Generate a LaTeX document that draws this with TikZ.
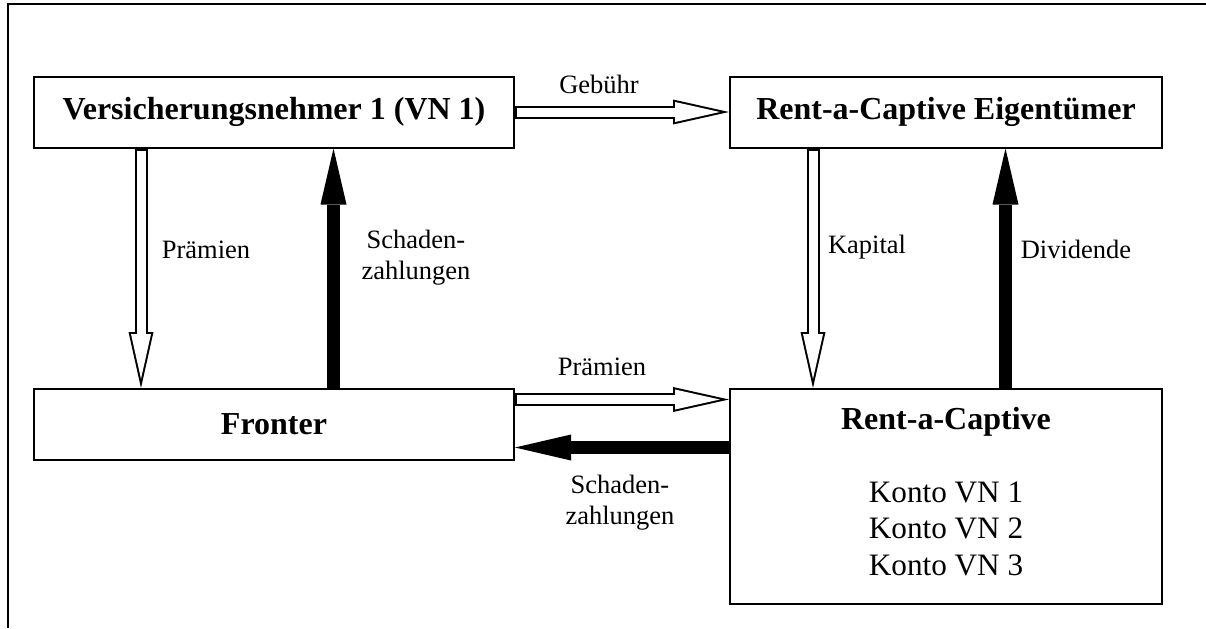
\documentclass[tikz,border=0pt]{standalone}
\usepackage{fontspec}
\setmainfont{Liberation Serif}
\usetikzlibrary{arrows.meta, positioning, calc}

\begin{document}
\begin{tikzpicture}[
    x=0.5pt, y=-0.5pt,
    party/.style={draw, rectangle, line width=1pt, inner sep=0pt,
      minimum height=35.5pt, font=\fontsize{16}{19}\selectfont\bfseries},
    flowLabel/.style={inner sep=0pt, align=center,
      font=\fontsize{13.25}{15.5}\selectfont},
    konto/.style={inner sep=0pt, font=\fontsize{15.6}{18}\selectfont},
    payFlow/.style={line width=6.5pt,
      -{Triangle[length=28pt, width=13pt, line width=0pt]}},
    hollowFlow/.style={
      preaction={draw=black, line width=6.5pt, shorten <=0pt, shorten >=0pt,
        -{Triangle[length=28pt, width=12.5pt, line width=0pt]}},
      draw=white, line width=4.5pt, shorten <=1pt, shorten >=4.6pt,
      -{Triangle[length=22.4pt, width=10pt, line width=0pt]}},
  ]
  \useasboundingbox (0,0) rectangle (1206,628);
  % frame
  \draw[line width=1.2pt] (1206,4) -| (8,628);
  % parties
  \node[party, minimum width=240pt] (vn) at (274,112) {Versicherungsnehmer 1 (VN 1)};
  \node[party, minimum width=216pt] (owner) at (946,112) {Rent-a-Captive Eigentümer};
  \node[party, minimum width=240pt] (fronter) at (274,424.5) {Fronter};
  \node[party, minimum width=216pt, minimum height=107.5pt] (captive) at (946,496.5) {};
  \node[party, draw=none, anchor=base] (captiveT) at (946,429) {Rent-a-Captive};
  \foreach \i/\y in {1/502, 2/538, 3/575}
    \node[konto, anchor=base] (konto\i) at (946,\y) {Konto VN \i};
  % flows
  \draw[hollowFlow] (vn.east) -- (owner.west);
  \draw[hollowFlow] ([xshift=54pt]vn.south west) -- ([xshift=54pt]fronter.north west);
  \draw[payFlow] ([xshift=150.25pt]fronter.north west) -- ([xshift=150.25pt]vn.south west);
  \draw[hollowFlow] ([xshift=42pt]owner.south west) -- ([xshift=42pt]captive.north west);
  \draw[payFlow] ([xshift=138.25pt]captive.north west) -- ([xshift=138.25pt]owner.south west);
  \draw[hollowFlow] ([yshift=-5.75pt]fronter.north east) -- ([yshift=-5.75pt]captive.north west);
  \draw[payFlow] ([yshift=-29.75pt]captive.north west) -- ([yshift=-29.75pt]fronter.north east);
  % labels
  \node[flowLabel] (gebuehr) at (599,84) {Gebühr};
  \node[flowLabel] (praemienV) at (206,250) {Prämien};
  \node[flowLabel] (schadenV) at (416,257.5) {Schaden-\\zahlungen};
  \node[flowLabel] (kapital) at (867,247) {Kapital};
  \node[flowLabel] (dividende) at (1076,249) {Dividende};
  \node[flowLabel] (praemienH) at (602,367) {Prämien};
  \node[flowLabel] (schadenH) at (620,503) {Schaden-\\zahlungen};
\end{tikzpicture}
\end{document}
